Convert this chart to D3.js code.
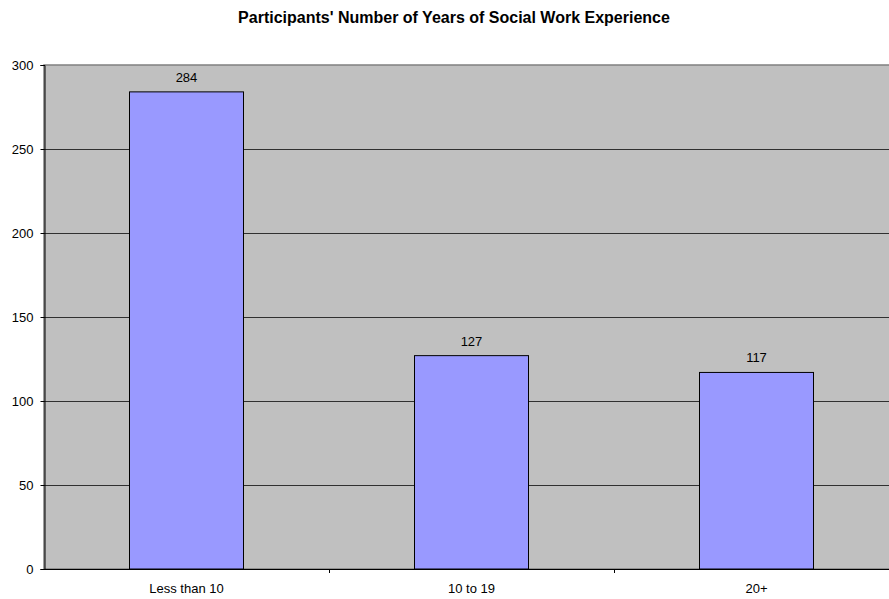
<!DOCTYPE html>
<html>
<head>
<meta charset="utf-8">
<script src="https://cdn.jsdelivr.net/npm/d3@7"></script>
<style>
  body { margin: 0; background: #fff; }
  text { font-family: Arial, "Liberation Sans", sans-serif; }
</style>
</head>
<body>
<svg id="chart" width="889" height="599"></svg>
<script>
// Years of social work experience, participant counts
const categories = ["Less than 10", "10 to 19", "20+"];
const counts = [284, 127, 117];
const yTicks = [0, 50, 100, 150, 200, 250, 300];
const titleText = "Participants' Number of Years of Social Work Experience";

const svg = d3.select("#chart");
const plot = { left: 44, top: 65, right: 899, bottom: 569 };
const fontFamily = "Arial, 'Liberation Sans', sans-serif";

const x = d3.scaleBand()
  .domain(categories)
  .range([plot.left, plot.right])
  .paddingInner(0.6)
  .paddingOuter(0.3);

// band boundaries for category ticks
const xBand = d3.scaleBand().domain(categories).range([plot.left, plot.right]);

const y = d3.scaleLinear().domain([0, 300]).range([plot.bottom, plot.top]);

svg.append("text")
  .attr("x", 454)
  .attr("y", 23)
  .attr("text-anchor", "middle")
  .attr("font-size", "16px")
  .attr("font-weight", "bold")
  .text(titleText);

// plot background
svg.append("rect")
  .attr("x", plot.left).attr("y", plot.top)
  .attr("width", plot.right - plot.left).attr("height", plot.bottom - plot.top)
  .attr("fill", "#c0c0c0")
  .attr("stroke", "#808080")
  .attr("stroke-width", 1.5);

// horizontal gridlines
svg.append("g").selectAll("line")
  .data(yTicks.filter(d => d > 0 && d < 300))
  .join("line")
  .attr("x1", plot.left).attr("x2", plot.right)
  .attr("y1", d => y(d) + 0.5).attr("y2", d => y(d) + 0.5)
  .attr("stroke", "#000")
  .attr("stroke-width", 1)
  .attr("stroke-opacity", 0.75);

// bars
svg.append("g").selectAll("rect")
  .data(counts)
  .join("rect")
  .attr("x", (d, i) => x(categories[i]))
  .attr("y", d => y(d))
  .attr("width", x.bandwidth())
  .attr("height", d => y(0) - y(d))
  .attr("fill", "#9999ff")
  .attr("stroke", "#000")
  .attr("stroke-width", 1);

// value labels
svg.append("g").selectAll("text")
  .data(counts)
  .join("text")
  .attr("x", (d, i) => x(categories[i]) + x.bandwidth() / 2)
  .attr("y", d => y(d) - 10)
  .attr("text-anchor", "middle")
  .attr("font-size", "13px")
  .attr("fill", "#000")
  .text(d => d);

// y axis
const yAxis = d3.axisLeft(y).tickValues(yTicks).tickSize(4).tickPadding(7);
const gy = svg.append("g").attr("transform", `translate(${plot.left + 0.5},0)`).call(yAxis);
gy.select(".domain").attr("stroke", "#000");
gy.selectAll(".tick line").attr("stroke", "#000");
gy.selectAll(".tick text").attr("font-size", "13px").attr("font-family", fontFamily).attr("fill", "#000");

// x axis baseline
svg.append("line")
  .attr("x1", plot.left).attr("x2", plot.right)
  .attr("y1", plot.bottom + 0.5).attr("y2", plot.bottom + 0.5)
  .attr("stroke", "#000").attr("stroke-width", 1);

// category boundary ticks
svg.append("g").selectAll("line")
  .data(categories.slice(1))
  .join("line")
  .attr("x1", d => xBand(d) + 0.5).attr("x2", d => xBand(d) + 0.5)
  .attr("y1", plot.bottom).attr("y2", plot.bottom + 4)
  .attr("stroke", "#000");

// category labels
svg.append("g").selectAll("text")
  .data(categories)
  .join("text")
  .attr("x", d => x(d) + x.bandwidth() / 2)
  .attr("y", plot.bottom + 24)
  .attr("text-anchor", "middle")
  .attr("font-size", "13px")
  .attr("fill", "#000")
  .text(d => d);
</script>
</body>
</html>
